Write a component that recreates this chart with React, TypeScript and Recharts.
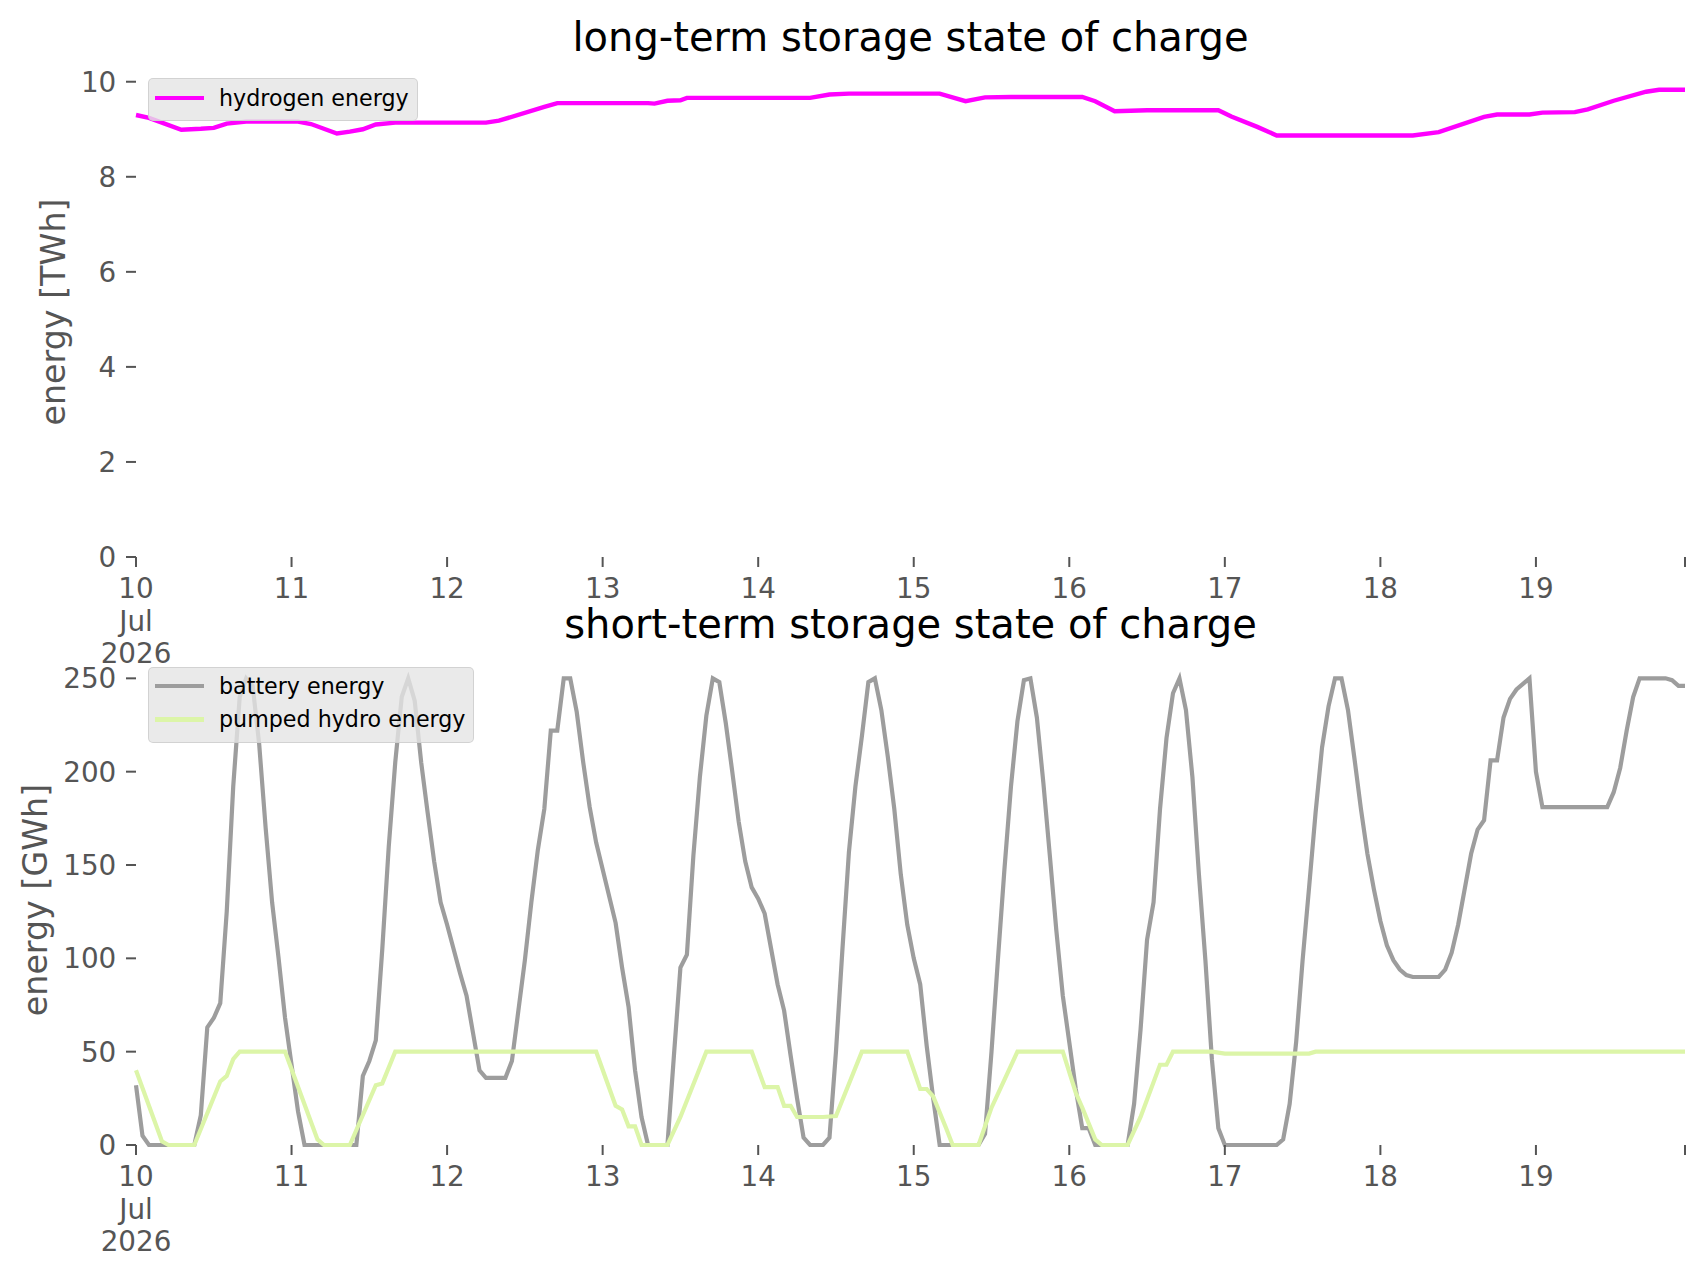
import { LineChart, Line, XAxis, YAxis, Legend } from "recharts";

const FONT = "DejaVu Sans";
const TICK_GRAY = "#555555";

// hours since 10 Jul 2026 00:00 -> value
const hydrogenEnergy: [number, number][] = [
  [0, 9.3], [2, 9.24], [7, 8.99], [10, 9.01], [12, 9.03], [14, 9.12], [17, 9.16], [25, 9.16],
  [27, 9.11], [31, 8.91], [33, 8.95], [35, 9.0], [37, 9.1], [40, 9.14], [54, 9.14], [56, 9.18],
  [63, 9.47], [65, 9.55], [79, 9.55], [80, 9.54], [82, 9.6], [84, 9.61], [85, 9.66], [104, 9.66],
  [107, 9.73], [110, 9.75], [124, 9.75], [128, 9.59], [131, 9.67], [135, 9.68], [146, 9.68],
  [148, 9.59], [151, 9.38], [156, 9.4], [167, 9.4], [169, 9.27], [173, 9.05], [176, 8.87],
  [197, 8.87], [201, 8.94], [208, 9.26], [210, 9.31], [215, 9.31], [217, 9.35], [222, 9.36],
  [224, 9.42], [228, 9.6], [233, 9.79], [235, 9.83], [239, 9.83],
];

const batteryEnergy: [number, number][] = [
  [0, 32], [1, 5], [2, 0], [9, 0], [10, 16], [11, 63], [12, 68], [13, 76], [14, 125], [15, 192],
  [16, 240], [17, 250], [18, 246], [19, 215], [20, 170], [21, 130], [22, 100], [23, 68], [24, 43],
  [25, 18], [26, 0], [34, 0], [35, 37], [36, 45], [37, 56], [38, 105], [39, 160], [40, 205],
  [41, 240], [42, 250], [43, 238], [44, 205], [45, 178], [46, 152], [47, 130], [48, 118], [49, 105],
  [50, 92], [51, 80], [52, 60], [53, 40], [54, 36], [57, 36], [58, 45], [59, 72], [60, 99],
  [61, 130], [62, 158], [63, 180], [64, 222], [65, 222], [66, 250], [67, 250], [68, 232], [69, 205],
  [70, 181], [71, 162], [74, 119], [75, 95], [76, 74], [77, 40], [78, 15], [79, 0], [82, 0],
  [83, 48], [84, 95], [85, 102], [86, 155], [87, 197], [88, 230], [89, 250], [90, 248], [91, 226],
  [92, 200], [93, 173], [94, 152], [95, 138], [96, 132], [97, 124], [98, 105], [99, 86], [100, 72],
  [101, 48], [102, 25], [103, 4], [104, 0], [106, 0], [107, 4], [108, 50], [109, 105], [110, 157],
  [111, 192], [112, 219], [113, 248], [114, 250], [115, 233], [116, 208], [117, 180], [118, 145],
  [119, 118], [120, 100], [121, 86], [122, 53], [123, 25], [124, 0], [130, 0], [131, 6], [132, 50],
  [133, 100], [134, 148], [135, 192], [136, 227], [137, 249], [138, 250], [139, 229], [140, 194],
  [141, 155], [142, 115], [143, 80], [144, 55], [145, 30], [146, 9], [147, 9], [148, 0], [153, 0],
  [154, 22], [155, 62], [156, 110], [157, 130], [158, 180], [159, 218], [160, 242], [161, 250],
  [162, 233], [163, 197], [164, 145], [165, 99], [166, 46], [167, 9], [168, 0], [176, 0], [177, 3],
  [178, 22], [179, 55], [180, 99], [181, 138], [182, 178], [183, 213], [184, 235], [185, 250],
  [186, 250], [187, 233], [188, 207], [189, 180], [190, 156], [191, 137], [192, 120], [193, 107],
  [194, 99], [195, 94], [196, 91], [197, 90], [201, 90], [202, 94], [203, 103], [204, 118],
  [205, 137], [206, 156], [207, 169], [208, 174], [209, 206], [210, 206], [211, 229], [212, 239],
  [213, 244], [214, 247], [215, 250], [216, 200], [217, 181], [227, 181], [228, 189], [229, 202],
  [230, 222], [231, 240], [232, 250], [236, 250], [237, 249], [238, 246], [239, 246],
];

const pumpedHydroEnergy: [number, number][] = [
  [0, 40], [4, 2], [5, 0], [9, 0], [13, 34], [14, 37], [15, 46], [16, 50], [23, 50], [28, 3],
  [29, 0], [33, 0], [37, 32], [38, 33], [40, 50], [71, 50], [74, 21], [75, 19], [76, 10], [77, 10],
  [78, 0], [82, 0], [84, 15], [88, 50], [95, 50], [97, 31], [99, 31], [100, 21], [101, 21],
  [102, 15], [106, 15], [108, 15.5], [112, 50], [119, 50], [121, 30], [122, 30], [123, 26],
  [125, 9], [126, 0], [130, 0], [132, 20], [136, 50], [143, 50], [145, 28], [146, 20], [148, 3],
  [149, 0], [153, 0], [155, 15], [158, 43], [159, 43], [160, 50], [166, 50], [168, 49], [181, 49],
  [182, 50], [239, 50],
];

const dayTicks = [0, 24, 48, 72, 96, 120, 144, 168, 192, 216, 239];
const dayLabels = ["10", "11", "12", "13", "14", "15", "16", "17", "18", "19", ""];
const firstDayExtra = ["Jul", "2026"];
const longTermTicks = [0, 2, 4, 6, 8, 10];
const shortTermTicks = [0, 50, 100, 150, 200, 250];

const rows = (pts: [number, number][]) => pts.map(([h, v]) => ({ h, v }));

function DayTick(props: any) {
  const { x, y, payload } = props;
  const i = dayTicks.indexOf(payload.value);
  const lines = i === 0 ? [dayLabels[0], ...firstDayExtra] : [dayLabels[i] ?? ""];
  return (
    <text x={x} y={y + 31.3} textAnchor="middle" fill={TICK_GRAY} fontSize={27.8} fontFamily={FONT}>
      {lines.map((t, k) => (
        <tspan key={k} x={x} dy={k === 0 ? 0 : 32.5}>
          {t}
        </tspan>
      ))}
    </text>
  );
}

function LegendBox(props: any) {
  const items = props.payload || [];
  return (
    <div
      style={{
        background: "rgba(229,229,229,0.8)",
        border: "1.5px solid rgba(204,204,204,0.8)",
        borderRadius: 5,
        padding: "2px 8px 6px 6px",
        fontFamily: FONT,
        fontSize: 22.2,
        color: "#000",
        display: "inline-block",
      }}
    >
      {items.map((p: any) => (
        <div key={p.value} style={{ display: "flex", alignItems: "center", height: 33.3 }}>
          <span style={{ display: "inline-block", width: 49, height: 4.2, background: p.color, marginRight: 15 }} />
          <span style={{ whiteSpace: "nowrap" }}>{p.value}</span>
        </div>
      ))}
    </div>
  );
}

const CHART_W = 1706;
const CHART_H = 667;
const MARGIN = { top: 67, right: 21, bottom: 0, left: 0 };

export default function App() {
  return (
    <div style={{ position: "absolute", left: 0, top: 0, width: 1706, height: 1277, background: "#fff" }}>
      <div style={{ position: "absolute", left: 0, top: 0 }}>
        <LineChart width={CHART_W} height={CHART_H} margin={MARGIN}>
          <XAxis
            type="number"
            dataKey="h"
            domain={[0, 239]}
            ticks={dayTicks}
            interval={0}
            tick={<DayTick />}
            tickSize={10}
            tickMargin={0}
            tickLine={{ stroke: TICK_GRAY, strokeWidth: 2 }}
            axisLine={false}
            height={110}
          />
          <YAxis
            type="number"
            domain={[0, 10.31]}
            ticks={longTermTicks}
            interval={0}
            width={136}
            tickSize={10}
            tickMargin={9.7}
            tick={{ fill: TICK_GRAY, fontSize: 27.8, fontFamily: FONT }}
            tickLine={{ stroke: TICK_GRAY, strokeWidth: 2 }}
            axisLine={false}
          />
          <Line
            data={rows(hydrogenEnergy)}
            dataKey="v"
            name="hydrogen energy"
            type="linear"
            stroke="#ff00ff"
            strokeWidth={4.4}
            dot={false}
            activeDot={false}
            isAnimationActive={false}
          />
          <Legend
            content={<LegendBox />}
            layout="horizontal"
            verticalAlign="middle"
            align="center"
            wrapperStyle={{ left: 148, top: 78, width: "auto", height: "auto" }}
          />
        </LineChart>
      </div>

      <div style={{ position: "absolute", left: 0, top: 587.5 }}>
        <LineChart width={CHART_W} height={CHART_H} margin={MARGIN}>
          <XAxis
            type="number"
            dataKey="h"
            domain={[0, 239]}
            ticks={dayTicks}
            interval={0}
            tick={<DayTick />}
            tickSize={10}
            tickMargin={0}
            tickLine={{ stroke: TICK_GRAY, strokeWidth: 2 }}
            axisLine={false}
            height={110}
          />
          <YAxis
            type="number"
            domain={[0, 262.5]}
            ticks={shortTermTicks}
            interval={0}
            width={136}
            tickSize={10}
            tickMargin={9.7}
            tick={{ fill: TICK_GRAY, fontSize: 27.8, fontFamily: FONT }}
            tickLine={{ stroke: TICK_GRAY, strokeWidth: 2 }}
            axisLine={false}
          />
          <Line
            data={rows(batteryEnergy)}
            dataKey="v"
            name="battery energy"
            type="linear"
            stroke="#9d9d9d"
            strokeWidth={4.2}
            dot={false}
            activeDot={false}
            isAnimationActive={false}
          />
          <Line
            data={rows(pumpedHydroEnergy)}
            dataKey="v"
            name="pumped hydro energy"
            type="linear"
            stroke="#dcf5a8"
            strokeWidth={4.2}
            dot={false}
            activeDot={false}
            isAnimationActive={false}
          />
          <Legend
            content={<LegendBox />}
            layout="horizontal"
            verticalAlign="middle"
            align="center"
            wrapperStyle={{ left: 148, top: 79, width: "auto", height: "auto" }}
          />
        </LineChart>
      </div>

      <svg
        width={1706}
        height={1277}
        style={{ position: "absolute", left: 0, top: 0, pointerEvents: "none" }}
        fontFamily={FONT}
      >
        <text x={910.5} y={50.5} textAnchor="middle" fontSize={40} fill="#000">
          long-term storage state of charge
        </text>
        <text x={910.5} y={638} textAnchor="middle" fontSize={40} fill="#000">
          short-term storage state of charge
        </text>
        <text transform="translate(53 312) rotate(-90)" textAnchor="middle" dy="0.35em" fontSize={33.3} fill={TICK_GRAY}>
          energy [TWh]
        </text>
        <text transform="translate(35 900) rotate(-90)" textAnchor="middle" dy="0.35em" fontSize={33.3} fill={TICK_GRAY}>
          energy [GWh]
        </text>
      </svg>
    </div>
  );
}
